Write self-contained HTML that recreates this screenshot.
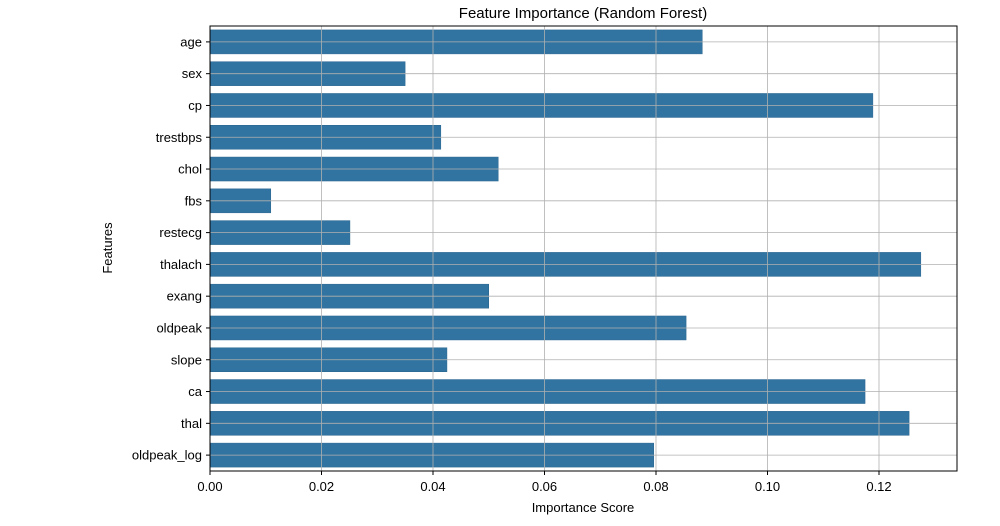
<!DOCTYPE html>
<html><head><meta charset="utf-8"><style>
html,body{margin:0;padding:0;background:#fff;}
svg{display:block;font-family:"Liberation Sans","DejaVu Sans",sans-serif;}
</style></head><body>
<svg id="chart" width="1000" height="526" viewBox="0 0 1000 526">
<text x="583" y="18" text-anchor="middle" font-size="15" fill="#000">Feature Importance (Random Forest)</text>
<g id="bars"></g>
<g id="grid"></g>
<rect x="210" y="26" width="747" height="445" fill="none" stroke="#000" stroke-width="1"/>
<g id="xaxis"></g>
<g id="yaxis"></g>
<text x="583" y="512" text-anchor="middle" font-size="13">Importance Score</text>
<text x="112" y="248" text-anchor="middle" font-size="13" transform="rotate(-90 112 248)">Features</text>
</svg>
<script>
const features = ["age","sex","cp","trestbps","chol","fbs","restecg","thalach","exang","oldpeak","slope","ca","thal","oldpeak_log"];
const importance = [0.0883,0.0350,0.1189,0.0414,0.0517,0.0109,0.0251,0.1275,0.0500,0.0854,0.0425,0.1175,0.1254,0.0796];
const xTicks = [0,0.02,0.04,0.06,0.08,0.10,0.12];
const xTickLabels = ["0.00","0.02","0.04","0.06","0.08","0.10","0.12"];

const NS="http://www.w3.org/2000/svg";
const L=210,R=957,T=26,B=471;
const xs=v=>L+v*5575;
const band=(B-T)/features.length;
const yc=i=>T+band*(i+0.5);
function mk(tag,attrs,parent){const e=document.createElementNS(NS,tag);for(const k in attrs)e.setAttribute(k,attrs[k]);parent.appendChild(e);return e;}
const bars=document.getElementById('bars'),grid=document.getElementById('grid'),xa=document.getElementById('xaxis'),ya=document.getElementById('yaxis');
features.forEach((f,i)=>{
  const r=mk('rect',{x:L,y:yc(i)-12,width:xs(importance[i])-L,height:24,fill:'#3274a1',stroke:'#2a6590','stroke-width':0.5},bars);
  
  
  const g=mk('line',{x1:L,x2:R,y1:yc(i),y2:yc(i),stroke:'#b0b0b0','stroke-width':0.8},grid);
  
  
  mk('line',{x1:L-4,x2:L,y1:yc(i),y2:yc(i),stroke:'#000'},ya);
  const t=mk('text',{x:L-8,y:yc(i)+4.5,'text-anchor':'end','font-size':13},ya);
  t.textContent=f;
  
  
});
xTicks.forEach((v,i)=>{
  const g=mk('line',{x1:xs(v),x2:xs(v),y1:T,y2:B,stroke:'#b0b0b0','stroke-width':0.8},grid);
  
  
  mk('line',{x1:xs(v),x2:xs(v),y1:B,y2:B+4,stroke:'#000'},xa);
  const t=mk('text',{x:xs(v),y:B+20,'text-anchor':'middle','font-size':13},xa);
  t.textContent=xTickLabels[i];
  
  
});
</script>
</body></html>
